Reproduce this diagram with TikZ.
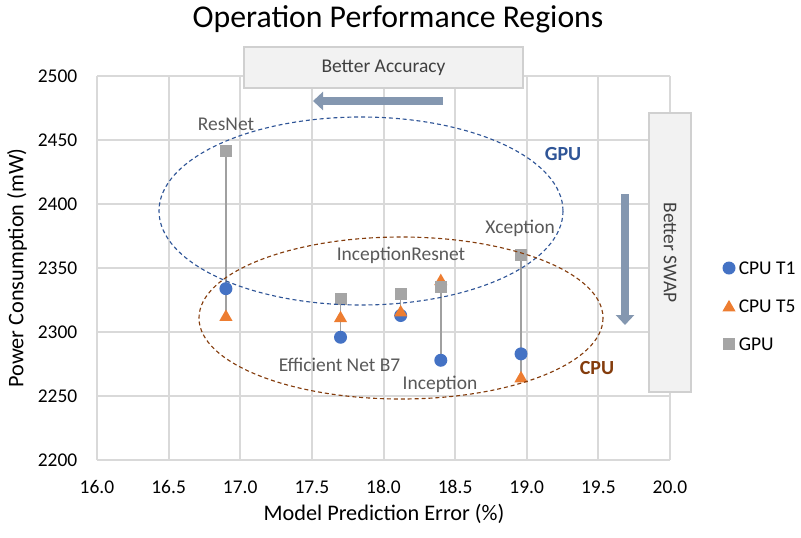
\documentclass[tikz,border=0pt]{standalone}
\usepackage{fontspec}
\setmainfont{Carlito}
\usetikzlibrary{arrows.meta,shapes.geometric}
\definecolor{gridc}{HTML}{D9D9D9}
\definecolor{tone}{HTML}{4472C4}
\definecolor{ttwo}{HTML}{ED7D31}
\definecolor{tgpu}{HTML}{A5A5A5}
\definecolor{gpuc}{HTML}{2F5597}
\definecolor{cpuc}{HTML}{843C0C}
\definecolor{arrc}{HTML}{8497B0}
\definecolor{boxf}{HTML}{F2F2F2}
\definecolor{boxd}{HTML}{D0D0D0}
\definecolor{labc}{HTML}{595959}
\definecolor{dropc}{HTML}{A0A0A0}
\newcommand\datx[1]{(97+(#1-16)*143.25)}
\newcommand\daty[1]{(460-(#1-2200)*1.2787)}
\begin{document}
\begin{tikzpicture}[x=0.75pt,y=-0.75pt,
  gridline/.style={draw=gridc,line width=1.5pt},
  ticklab/.style={font=\fontsize{14.6}{16}\selectfont,text=black,inner sep=0pt},
  datalab/.style={font=\fontsize{14.6}{16}\selectfont,text=labc,inner sep=0pt},
  mone/.style={circle,fill=tone,draw=none,minimum size=9.75pt,inner sep=0pt},
  mtwo/.style={regular polygon,regular polygon sides=3,fill=ttwo,draw=none,minimum size=11.5pt,inner sep=0pt,yshift=-1.2pt},
  mgpu/.style={rectangle,fill=tgpu,draw=none,minimum size=9pt,inner sep=0pt},
  dropline/.style={draw=dropc,line width=1.1pt},
  region/.style={dashed,dash pattern=on 3pt off 2.2pt,line width=0.85pt},
  bigarrow/.style={draw=arrc,line width=6pt,-{Triangle[width=13.5pt,length=7.5pt]}},
  infobox/.style={rectangle,fill=boxf,draw=boxd,line width=0.9pt,text=black!75,font=\fontsize{14.6}{16}\selectfont,inner sep=0pt}
]
\useasboundingbox (0,0) rectangle (801,537);
% grid
\foreach \v in {16,16.5,17,17.5,18,18.5,19,19.5,20}
  \draw[gridline] ({\datx{\v}},{\daty{2200}}) -- ({\datx{\v}},{\daty{2500}});
\foreach \v in {2200,2250,2300,2350,2400,2450,2500}
  \draw[gridline] ({\datx{16}},{\daty{\v}}) -- ({\datx{20}},{\daty{\v}});
% tick labels
\foreach \v/\t in {16/16.0,16.5/16.5,17/17.0,17.5/17.5,18/18.0,18.5/18.5,19/19.0,19.5/19.5,20/20.0}
  \node[ticklab] (xt\t) at ({\datx{\v}},487) {\t};
\foreach \v in {2200,2250,2300,2350,2400,2450,2500}
  \node[ticklab,anchor=east] (yt\v) at (77.5,{\daty{\v}}) {\v};
% titles
\node[font=\fontsize{23.8}{28}\selectfont,inner sep=0pt] (title) at (398,19) {Operation Performance Regions};
\node[font=\fontsize{16.7}{20}\selectfont,inner sep=0pt] (xtitle) at (384,514) {Model Prediction Error (\%)};
\node[font=\fontsize{16.7}{20}\selectfont,inner sep=0pt,rotate=90] (ytitle) at (17,268) {Power Consumption (mW)};
% data coordinates
\coordinate (rn-g) at ({\datx{16.90}},{\daty{2442}});
\coordinate (rn-a) at ({\datx{16.90}},{\daty{2334}});
\coordinate (rn-b) at ({\datx{16.90}},{\daty{2313}});
\coordinate (en-g) at ({\datx{17.70}},{\daty{2326}});
\coordinate (en-a) at ({\datx{17.70}},{\daty{2296}});
\coordinate (en-b) at ({\datx{17.70}},{\daty{2312}});
\coordinate (ir-g) at ({\datx{18.12}},{\daty{2330}});
\coordinate (ir-a) at ({\datx{18.12}},{\daty{2313}});
\coordinate (ir-b) at ({\datx{18.12}},{\daty{2316.5}});
\coordinate (ic-g) at ({\datx{18.40}},{\daty{2335}});
\coordinate (ic-a) at ({\datx{18.40}},{\daty{2278}});
\coordinate (ic-b) at ({\datx{18.40}},{\daty{2341}});
\coordinate (xc-g) at ({\datx{18.96}},{\daty{2360}});
\coordinate (xc-a) at ({\datx{18.96}},{\daty{2283}});
\coordinate (xc-b) at ({\datx{18.96}},{\daty{2265}});
% drop lines
\draw[dropline] (rn-g) -- (rn-b);
\draw[dropline] (en-g) -- (en-a);
\draw[dropline] (ir-g) -- (ir-a);
\draw[dropline] (ic-g) -- (ic-a);
\draw[dropline] (xc-g) -- (xc-b);
% markers
\foreach \m in {rn,en,ir,ic,xc} \node[mone] (\m-one) at (\m-a) {};
\foreach \m in {rn,en,ir,ic,xc} \node[mtwo] (\m-two) at (\m-b) {};
\foreach \m in {rn,en,ir,ic,xc} \node[mgpu] (\m-gpu) at (\m-g) {};
% data labels
\node[datalab] (lrn) at (226,124) {ResNet};
\node[datalab] (lir) at (401,255) {InceptionResnet};
\node[datalab] (len) at (339.5,365) {Efficient Net B7};
\node[datalab] (lic) at (440,384) {Inception};
\node[datalab] (lxc) at (520,228) {Xception};
% regions
\draw[region,draw=gpuc] (361,211) ellipse [x radius=202, y radius=94];
\draw[region,draw=cpuc] (401,318) ellipse [x radius=202, y radius=81];
\node[font=\bfseries\fontsize{15}{18}\selectfont,text=gpuc,inner sep=0pt] (lgpu) at (563,154) {GPU};
\node[font=\bfseries\fontsize{15}{18}\selectfont,text=cpuc,inner sep=0pt] (lcpu) at (597,368) {CPU};
% boxes
\node[infobox,minimum width=209.25pt,minimum height=30.75pt] (accbox) at (383.5,67.5) {Better Accuracy};
\node[infobox,rotate=-90,minimum width=209.25pt,minimum height=31.5pt] (swapbox) at (670,252.5) {Better SWAP};
% arrows
\coordinate (accfrom) at (443,101);
\coordinate (accto) at (313,101);
\coordinate (swapfrom) at (625,194);
\coordinate (swapto) at (625,325);
\draw[bigarrow] (accfrom) -- (accto);
\draw[bigarrow] (swapfrom) -- (swapto);
% legend
\node[mone] (lg1) at (729,268) {};
\node[ticklab,anchor=west] (lgt1) at (738.5,268) {CPU T1};
\node[mtwo] (lg2) at (729,306) {};
\node[ticklab,anchor=west] (lgt2) at (738.5,306) {CPU T5};
\node[mgpu] (lg3) at (729,344) {};
\node[ticklab,anchor=west] (lgt3) at (738.5,344) {GPU};
\end{tikzpicture}
\end{document}
